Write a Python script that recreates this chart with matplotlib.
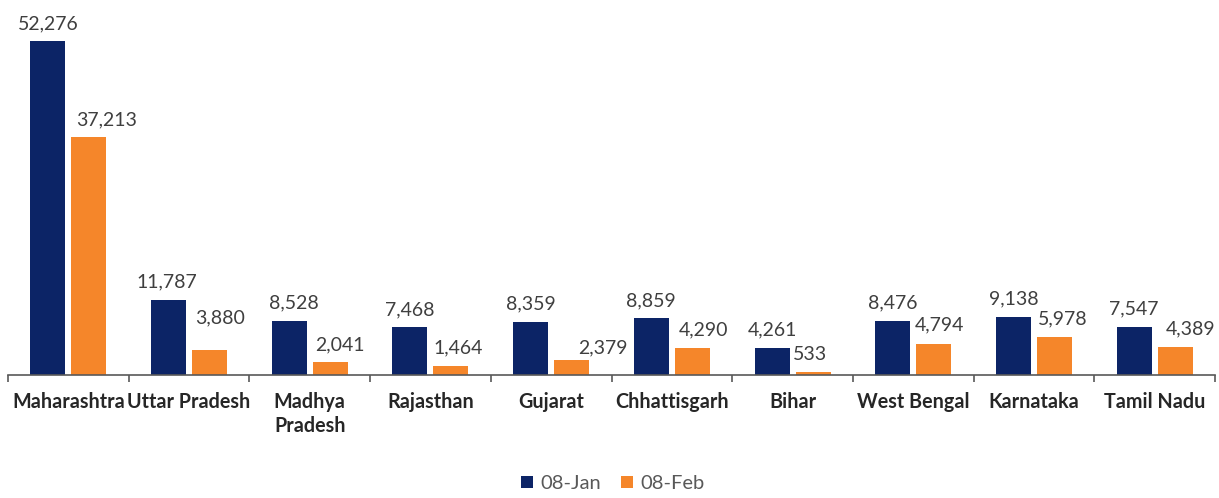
import matplotlib.pyplot as plt
import numpy as np

# данные с картинки
states = ["Maharashtra", "Uttar Pradesh", "Madhya\nPradesh", "Rajasthan", "Gujarat",
          "Chhattisgarh", "Bihar", "West Bengal", "Karnataka", "Tamil Nadu"]
jan_vals = [52276, 11787, 8528, 7468, 8359, 8859, 4261, 8476, 9138, 7547]
feb_vals = [37213, 3880, 2041, 1464, 2379, 4290, 533, 4794, 5978, 4389]
series_names = ["08-Jan", "08-Feb"]

# подписи в оригинале сдвинуты вручную (пиксели: dx, dy)
jan_lbl_dx = [0, -2, 5, 0, 0, 0, 0, 0, 0, 0]
feb_lbl_dx = [18, 10, 10, 7, 31, 11, -3, 6, 8, 15]
feb_lbl_dy = [0, 15, 0, 0, -6, 0, 0, 2, 0, 1]

NAVY = "#0c2466"
ORANGE = "#f5862a"

plt.rcParams["font.family"] = ["Lato", "DejaVu Sans"]

fig = plt.figure(figsize=(12.19, 4.98), dpi=100)
ax = fig.add_axes([8 / 1219, 123 / 498, 1207 / 1219, 375 / 498])

x = np.arange(len(states))
w = 0.29
off = 0.17
b1 = ax.bar(x - off, jan_vals, w, color=NAVY, label=series_names[0])
b2 = ax.bar(x + off, feb_vals, w, color=ORANGE, label=series_names[1])

base_dy = 9
for bars, dxs, dys in ((b1, jan_lbl_dx, [0] * len(states)), (b2, feb_lbl_dx, feb_lbl_dy)):
    for r, dx, dy in zip(bars, dxs, dys):
        v = r.get_height()
        ax.annotate(f"{v:,.0f}", (r.get_x() + r.get_width() / 2, v),
                    xytext=(dx, base_dy + dy), textcoords="offset pixels",
                    ha="center", va="bottom", fontsize=14, color="#3f3f3f")

ax.set_xlim(-0.5, len(states) - 0.5)
ax.set_ylim(0, 58700)
ax.set_yticks([])
for s in ("top", "right", "left"):
    ax.spines[s].set_visible(False)
ax.spines["bottom"].set_color("#595959")
ax.spines["bottom"].set_linewidth(1.2)

# подписи категорий и засечки между ними
ax.set_xticks(x)
ax.set_xticklabels(states, fontsize=14.2, fontweight="bold", color="#262626",
                   va="top", linespacing=1.25)
ax.tick_params(axis="x", which="major", length=0, pad=12)
ax.set_xticks(np.arange(-0.5, len(states) + 0.5, 1), minor=True)
ax.tick_params(axis="x", which="minor", length=5, color="#595959", width=1.2)

leg = fig.legend(loc="lower center", bbox_to_anchor=(0.503, -0.025), ncol=2, frameon=False,
                 fontsize=14.5, handlelength=0.55, handleheight=0.55, handletextpad=0.4,
                 columnspacing=1.0)
for t in leg.get_texts():
    t.set_color("#595959")

fig.savefig("out.png", dpi=100)
